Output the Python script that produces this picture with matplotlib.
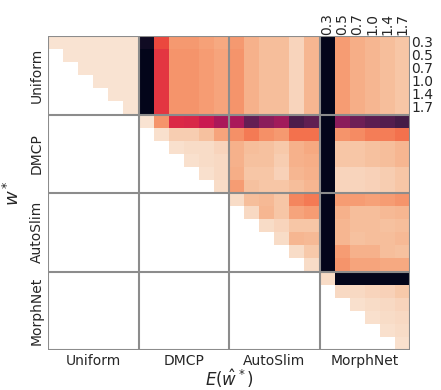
import numpy as np
import matplotlib
matplotlib.use("Agg")
import matplotlib.pyplot as plt
import seaborn as sns

groups = ["Uniform", "DMCP", "AutoSlim", "MorphNet"]
widths = ["0.3", "0.5", "0.7", "1.0", "1.4", "1.7"]
n = np.nan

# rows: w* (group x width), cols: E(w_hat*) ; lower triangle masked
row_uniform_03 = [0.02, 0.02, 0.02, 0.02, 0.02, 0.02, 0.96, 0.38, 0.21, 0.21, 0.19, 0.17, 0.21, 0.15, 0.12, 0.12, 0.06, 0.14, 1.0, 0.20, 0.16, 0.14, 0.12, 0.10]
row_uniform_05 = [n, 0.02, 0.02, 0.02, 0.02, 0.02, 1.0, 0.42, 0.22, 0.22, 0.20, 0.18, 0.22, 0.15, 0.12, 0.12, 0.06, 0.14, 1.0, 0.20, 0.16, 0.14, 0.12, 0.10]
row_uniform_07 = [n, n, 0.02, 0.02, 0.02, 0.02, 1.0, 0.42, 0.22, 0.22, 0.20, 0.18, 0.22, 0.15, 0.12, 0.12, 0.06, 0.14, 1.0, 0.20, 0.16, 0.14, 0.12, 0.10]
row_uniform_10 = [n, n, n, 0.02, 0.02, 0.02, 1.0, 0.42, 0.22, 0.22, 0.20, 0.18, 0.22, 0.15, 0.12, 0.12, 0.06, 0.14, 1.0, 0.20, 0.16, 0.14, 0.12, 0.10]
row_uniform_14 = [n, n, n, n, 0.02, 0.02, 1.0, 0.42, 0.22, 0.22, 0.20, 0.18, 0.22, 0.15, 0.12, 0.12, 0.06, 0.14, 1.0, 0.20, 0.16, 0.14, 0.12, 0.10]
row_uniform_17 = [n, n, n, n, n, 0.02, 1.0, 0.42, 0.22, 0.22, 0.20, 0.18, 0.22, 0.15, 0.12, 0.12, 0.06, 0.14, 1.0, 0.20, 0.16, 0.14, 0.12, 0.10]
row_dmcp_03 = [n, n, n, n, n, n, 0.02, 0.22, 0.45, 0.46, 0.50, 0.58, 0.58, 0.74, 0.65, 0.60, 0.80, 0.75, 1.0, 0.65, 0.72, 0.76, 0.78, 0.82]
row_dmcp_05 = [n, n, n, n, n, n, n, 0.03, 0.08, 0.08, 0.11, 0.18, 0.23, 0.28, 0.23, 0.21, 0.30, 0.30, 1.0, 0.22, 0.24, 0.27, 0.27, 0.30]
row_dmcp_07 = [n, n, n, n, n, n, n, n, 0.03, 0.04, 0.04, 0.06, 0.15, 0.12, 0.11, 0.09, 0.15, 0.17, 1.0, 0.10, 0.10, 0.11, 0.12, 0.14]
row_dmcp_10 = [n, n, n, n, n, n, n, n, n, 0.03, 0.04, 0.05, 0.15, 0.11, 0.11, 0.08, 0.15, 0.16, 1.0, 0.10, 0.10, 0.11, 0.12, 0.14]
row_dmcp_14 = [n, n, n, n, n, n, n, n, n, n, 0.03, 0.05, 0.16, 0.10, 0.10, 0.07, 0.14, 0.15, 1.0, 0.06, 0.06, 0.07, 0.08, 0.10]
row_dmcp_17 = [n, n, n, n, n, n, n, n, n, n, n, 0.04, 0.20, 0.11, 0.10, 0.10, 0.12, 0.14, 1.0, 0.06, 0.06, 0.07, 0.08, 0.10]
row_autoslim_03 = [n] * 12 + [0.04, 0.12, 0.13, 0.10, 0.25, 0.28, 1.0, 0.20, 0.20, 0.19, 0.20, 0.22]
row_autoslim_05 = [n] * 13 + [0.05, 0.14, 0.10, 0.18, 0.20, 1.0, 0.15, 0.12, 0.12, 0.13, 0.14]
row_autoslim_07 = [n] * 14 + [0.04, 0.06, 0.10, 0.10, 1.0, 0.14, 0.12, 0.12, 0.11, 0.12]
row_autoslim_10 = [n] * 15 + [0.04, 0.14, 0.13, 1.0, 0.14, 0.11, 0.12, 0.12, 0.13]
row_autoslim_14 = [n] * 16 + [0.04, 0.09, 1.0, 0.20, 0.15, 0.15, 0.12, 0.11]
row_autoslim_17 = [n] * 17 + [0.04, 1.0, 0.22, 0.18, 0.18, 0.17, 0.17]
row_morphnet_03 = [n] * 18 + [0.04, 1.0, 1.0, 1.0, 1.0, 1.0]
row_morphnet_05 = [n] * 19 + [0.05, 0.05, 0.06, 0.07, 0.09]
row_morphnet_07 = [n] * 20 + [0.03, 0.04, 0.05, 0.06]
row_morphnet_10 = [n] * 21 + [0.03, 0.04, 0.05]
row_morphnet_14 = [n] * 22 + [0.03, 0.04]
row_morphnet_17 = [n] * 23 + [0.03]

rows = [row_uniform_03, row_uniform_05, row_uniform_07, row_uniform_10, row_uniform_14, row_uniform_17,
        row_dmcp_03, row_dmcp_05, row_dmcp_07, row_dmcp_10, row_dmcp_14, row_dmcp_17,
        row_autoslim_03, row_autoslim_05, row_autoslim_07, row_autoslim_10, row_autoslim_14, row_autoslim_17,
        row_morphnet_03, row_morphnet_05, row_morphnet_07, row_morphnet_10, row_morphnet_14, row_morphnet_17]
M = np.ma.masked_invalid(np.array(rows, dtype=float))
N = M.shape[0]
k = len(widths)

fig = plt.figure(figsize=(4.41, 3.90), dpi=100)
ax = fig.add_axes([48 / 441, 1 - 350 / 390, 362 / 441, 314 / 390])
cmap = sns.color_palette("rocket_r", as_cmap=True)
ax.pcolormesh(np.arange(N + 1), np.arange(N + 1), M, cmap=cmap, vmin=0, vmax=1)
ax.set_xlim(0, N)
ax.set_ylim(N, 0)

gc = "#8c8c8c"
for b in range(0, N + 1, k):
    ax.axhline(b, color=gc, lw=1.5, zorder=3)
    ax.axvline(b, color=gc, lw=1.5, zorder=3)
for s in ax.spines.values():
    s.set_visible(False)

fs = 10
tc = "#262626"
centers = [g * k + k / 2 for g in range(len(groups))]
ax.set_xticks(centers)
ax.set_xticklabels(groups, fontsize=fs, color=tc)
ax.set_yticks(centers)
ax.set_yticklabels(groups, fontsize=fs, rotation=90, va="center", color=tc)
ax.tick_params(axis="x", length=0, pad=3)
ax.tick_params(axis="y", length=0, pad=3)

top = ax.secondary_xaxis("top")
top.set_xticks([3 * k + i + 0.5 for i in range(k)])
top.set_xticklabels(widths, rotation=90, fontsize=fs, color=tc)
top.tick_params(length=0, pad=1)
for s in top.spines.values():
    s.set_visible(False)

right = ax.secondary_yaxis("right")
right.set_yticks([i + 0.5 for i in range(k)])
right.set_yticklabels(widths, fontsize=fs, color=tc, va="center")
right.tick_params(length=0, pad=1)
for s in right.spines.values():
    s.set_visible(False)

ax.set_xlabel(r"$E(\hat{w}^*)$", fontsize=12, color=tc)
ax.xaxis.set_label_coords(0.5, -0.055)
ax.set_ylabel(r"$w^*$", fontsize=13, color=tc, labelpad=5)

fig.savefig("out.png", dpi=100)
